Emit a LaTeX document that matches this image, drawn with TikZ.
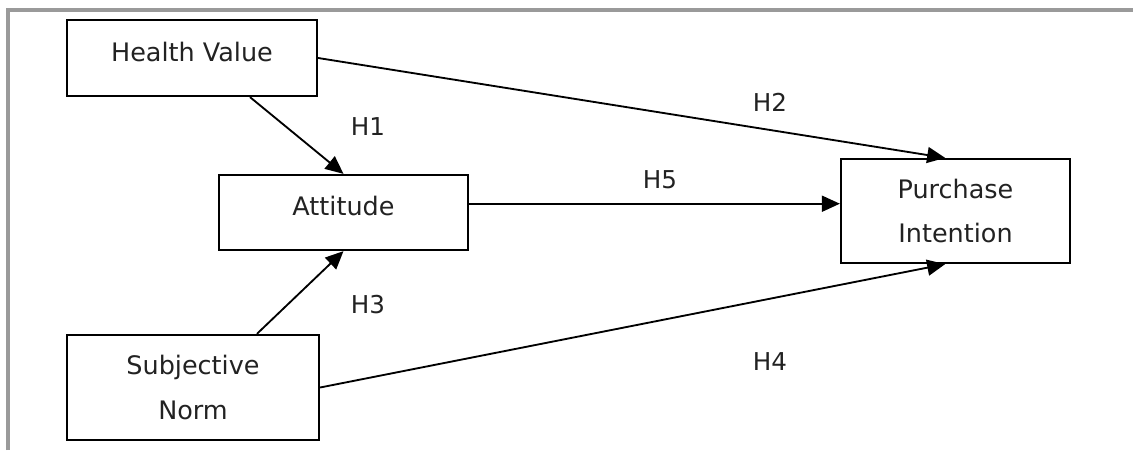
\documentclass[tikz,border=0pt]{standalone}
\usepackage{fontspec}
\setmainfont{DejaVu Sans}
\usepackage{tikz}
\usetikzlibrary{arrows.meta,calc}
\definecolor{colorframe}{HTML}{9A9A9A}
\definecolor{colortext}{HTML}{222222}
\tikzset{var/.style={draw, line width=1.3pt, inner sep=0pt, align=center,
  text=colortext, font=\fontsize{14.5}{25.5}\selectfont}}
\tikzset{varone/.style={var, text height=0.45cm, text depth=0.32cm}}
\tikzset{hyp/.style={draw=none, inner sep=0pt, text=colortext, font=\fontsize{14}{16}\selectfont}}
\tikzset{
  edgehyp/.style={black, line width=1.05pt, -{Triangle[length=3.6mm,width=3.2mm]}},
  edgeframe/.style={colorframe, line width=2.2pt}
}

\begin{document}
\begin{tikzpicture}[x=0.02cm, y=-0.02cm]
\useasboundingbox (0,0) rectangle (1133,450);
\draw[edgeframe] (8,450) -- (8,10) -- (1133,10);
\node[varone, minimum width=5cm, minimum height=1.52cm](hv) at (192,58) {Health Value};
\node[varone, minimum width=4.98cm, minimum height=1.5cm](att) at (343.5,212.5) {Attitude};
\node[var, minimum width=5.04cm, minimum height=2.1cm](sn) at (193,387.5) {Subjective\\Norm};
\node[var, minimum width=4.58cm, minimum height=2.08cm](pi) at (955.5,211) {Purchase\\Intention};
\draw[edgehyp] (hv.-34) -- (att.north);
\draw[edgehyp] (hv.east) -- (pi.101);
\draw[edgehyp] (att.4) -- (att.4 -| pi.west);
\draw[edgehyp] (sn.40) -- (att.south);
\draw[edgehyp] (sn.east) -- (pi.-101);
\node[hyp](h1) at (368,127) {H1};
\node[hyp](h2) at (770,102) {H2};
\node[hyp](h5) at (660,180) {H5};
\node[hyp](h3) at (368,305) {H3};
\node[hyp](h4) at (770,362) {H4};
\end{tikzpicture}
\end{document}
